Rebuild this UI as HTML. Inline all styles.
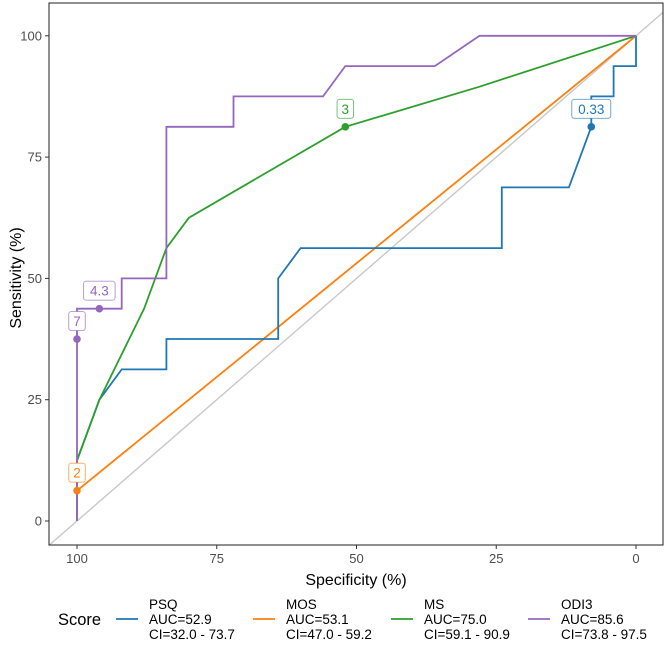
<!DOCTYPE html>
<html><head><meta charset="utf-8"><style>
body{margin:0;background:#fff;}
svg text{font-family:"Liberation Sans",sans-serif;}
</style></head><body>
<svg width="666" height="641" viewBox="0 0 666 641" xmlns="http://www.w3.org/2000/svg">
<rect x="0" y="0" width="666" height="641" fill="#fff"/>
<g id="plot"></g>
<g id="axes"></g>
<text x="356" y="585" font-size="16" fill="#000" text-anchor="middle">Specificity (%)</text>
<text transform="translate(21,278) rotate(-90)" font-size="16" fill="#000" text-anchor="middle">Sensitivity (%)</text>
<g id="legend"></g>
</svg>
<script>
const xTicks=[100,75,50,25,0];
const yTicks=[0,25,50,75,100];
const seriesNames=["PSQ","MOS","MS","ODI3"];
const seriesColors=["#1f77b4","#ff7f0e","#2ca02c","#9467bd"];
const aucLabels=["AUC=52.9","AUC=53.1","AUC=75.0","AUC=85.6"];
const ciLabels=["CI=32.0 - 73.7","CI=47.0 - 59.2","CI=59.1 - 90.9","CI=73.8 - 97.5"];
const psqSpec=[100,100,96,92,84,84,64,64,60,24,24,12,8,8,4,4,0,0];
const psqSens=[0,12.5,25,31.25,31.25,37.5,37.5,50,56.25,56.25,68.75,68.75,81.25,87.5,87.5,93.75,93.75,100];
const mosSpec=[100,100,0];
const mosSens=[0,6.25,100];
const msSpec=[100,100,96,88,84,80,52,28,0];
const msSens=[0,12.5,25,43.75,56.25,62.5,81.25,89.5,100];
const odiSpec=[100,100,100,96,92,92,84,84,72,72,56,52,36,28,0];
const odiSens=[0,37.5,43.75,43.75,43.75,50,50,81.25,81.25,87.5,87.5,93.75,93.75,100,100];
const ptSpec=[8,100,52,100,96];
const ptSens=[81.25,6.25,81.25,37.5,43.75];
const ptSeries=[0,1,2,3,3];
const ptLabels=["0.33","2","3","7","4.3"];

const PL=49,PR=663,PT=3,PB=545;
const X=s=>636-(s)*5.59;
const Y=v=>521-v*4.852;
const NS="http://www.w3.org/2000/svg";
function mk(tag,attrs,parent){const e=document.createElementNS(NS,tag);for(const k in attrs)e.setAttribute(k,attrs[k]);parent.appendChild(e);return e;}
const plot=document.getElementById('plot'),axes=document.getElementById('axes'),leg=document.getElementById('legend');

const defs=mk('defs',{},plot);
const cp=mk('clipPath',{id:'cp'},defs);mk('rect',{x:PL,y:PT,width:PR-PL,height:PB-PT},cp);
const g=mk('g',{'clip-path':'url(#cp)'},plot);


let d=mk('line',{x1:X(110),y1:Y(-10),x2:X(-10),y2:Y(110),stroke:'#c8c8c8','stroke-width':1.4},g);


const specs=[psqSpec,mosSpec,msSpec,odiSpec],senss=[psqSens,mosSens,msSens,odiSens];
const order=[1,0,2,3];
order.forEach(i=>{
  const pts=specs[i].map((s,j)=>X(s).toFixed(1)+','+Y(senss[i][j]).toFixed(1)).join(' ');
  const p=mk('polyline',{points:pts,fill:'none',stroke:seriesColors[i],'stroke-width':1.8},g);
  
  
});
ptSpec.forEach((s,i)=>{
  const c=mk('circle',{cx:X(s),cy:Y(ptSens[i]),r:3.8,fill:seriesColors[ptSeries[i]]},plot);
  
  
  const cx=X(s),cy=Y(ptSens[i])-18;
  const w=ptLabels[i].length*7.5+9;
  if(i===3){
    mk('line',{x1:cx,y1:cy+9,x2:cx,y2:Y(ptSens[i]),stroke:seriesColors[ptSeries[i]],'stroke-width':1.6},plot);
  }
  const r=mk('rect',{x:cx-w/2,y:cy-9.5,width:w,height:19,rx:2.5,fill:'#fff',stroke:seriesColors[ptSeries[i]],'stroke-width':0.9,'stroke-opacity':0.7},plot);
  
  
  const t=mk('text',{x:cx,y:cy+5,'font-size':13.5,fill:seriesColors[ptSeries[i]],'text-anchor':'middle'},plot);
  t.textContent=ptLabels[i];
  
  
});
mk('rect',{x:PL,y:PT,width:PR-PL,height:PB-PT,fill:'none',stroke:'#333','stroke-width':1.1},axes);
xTicks.forEach(v=>{
  mk('line',{x1:X(v),x2:X(v),y1:PB,y2:PB+4,stroke:'#333'},axes);
  const t=mk('text',{x:X(v),y:PB+18,'font-size':13,fill:'#4d4d4d','text-anchor':'middle'},axes);
  t.textContent=v;
  
  
});
yTicks.forEach(v=>{
  mk('line',{x1:PL-4,x2:PL,y1:Y(v),y2:Y(v),stroke:'#333'},axes);
  const t=mk('text',{x:PL-7,y:Y(v)+4.5,'font-size':13,fill:'#4d4d4d','text-anchor':'end'},axes);
  t.textContent=v;
  
  
});
const lt=mk('text',{x:58,y:625,'font-size':16.5,fill:'#000'},leg);
lt.textContent='Score';


const keyX=[116,253,391,528];
seriesNames.forEach((n,i)=>{
  const e=mk('g',{},leg);
  
  
  mk('line',{x1:keyX[i],x2:keyX[i]+22,y1:619,y2:619,stroke:seriesColors[i],'stroke-width':1.8},e);
  [n,aucLabels[i],ciLabels[i]].forEach((s,k)=>{
    const t=mk('text',{x:keyX[i]+33,y:609+k*15,'font-size':13.5,fill:'#000'},e);
    t.textContent=s;
  });
});
</script>
</body></html>
